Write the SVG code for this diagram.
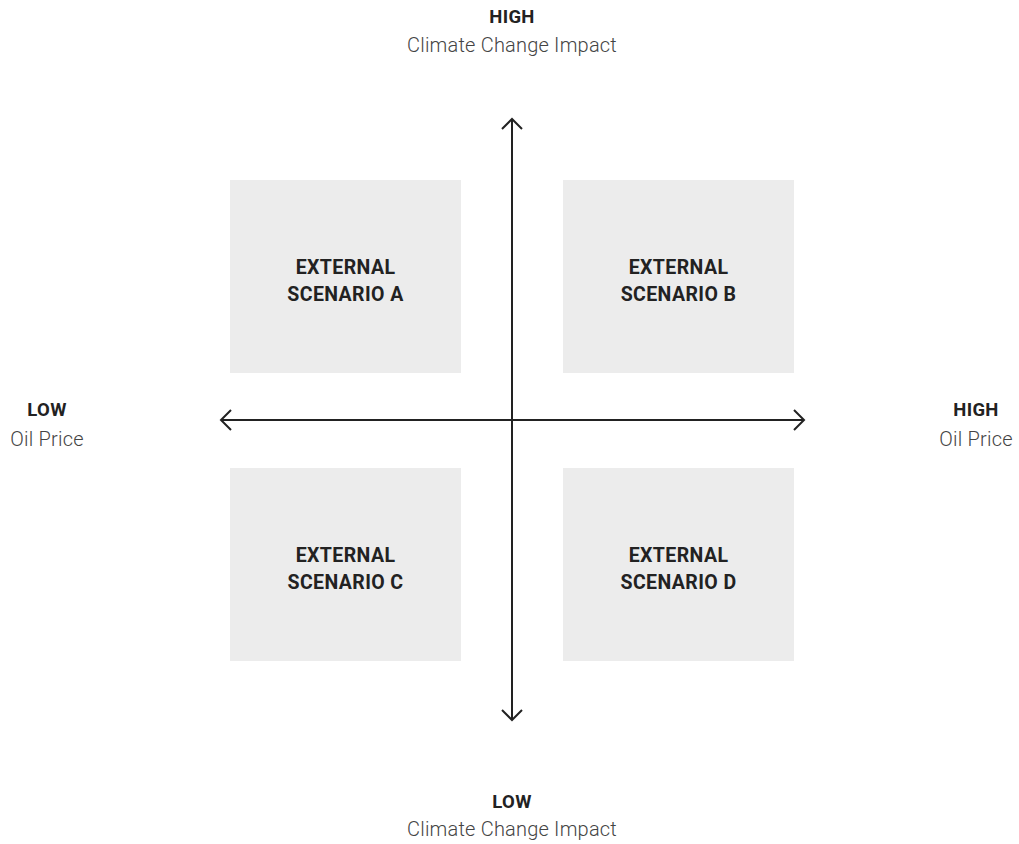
<svg xmlns="http://www.w3.org/2000/svg" width="1019" height="844" viewBox="0 0 1019 844">
<style>
.box{fill:#ececec}
.bt{font-family:Roboto,"Liberation Sans",sans-serif;font-weight:700;font-size:19.5px;letter-spacing:0.4px;fill:#222;text-anchor:middle}
.hd{font-family:Roboto,"Liberation Sans",sans-serif;font-weight:700;font-size:18.5px;letter-spacing:0.3px;fill:#222;text-anchor:middle}
.sub{font-family:Roboto,"Liberation Sans",sans-serif;font-weight:300;font-size:20px;letter-spacing:0.2px;fill:#444;text-anchor:middle}
.ax{stroke:#222;stroke-width:2;fill:none}
</style>
<rect width="1019" height="844" fill="#fff"/>
<g id="scenario-a"><rect class="box" x="230" y="180" width="231" height="193"/><text class="bt" x="345.5" y="274">EXTERNAL</text><text class="bt" x="345.5" y="301">SCENARIO A</text></g>
<g id="scenario-b"><rect class="box" x="563" y="180" width="231" height="193"/><text class="bt" x="678.5" y="274">EXTERNAL</text><text class="bt" x="678.5" y="301">SCENARIO B</text></g>
<g id="scenario-c"><rect class="box" x="230" y="468" width="231" height="193"/><text class="bt" x="345.5" y="562">EXTERNAL</text><text class="bt" x="345.5" y="589">SCENARIO C</text></g>
<g id="scenario-d"><rect class="box" x="563" y="468" width="231" height="193"/><text class="bt" x="678.5" y="562">EXTERNAL</text><text class="bt" x="678.5" y="589">SCENARIO D</text></g>
<g id="connectors">
<line class="ax" x1="512" y1="119" x2="512" y2="720"/>
<line class="ax" x1="221" y1="420" x2="804" y2="420"/>
<polyline class="ax" points="502,129 512,119 522,129"/>
<polyline class="ax" points="502,710 512,720 522,710"/>
<polyline class="ax" points="231,410 221,420 231,430"/>
<polyline class="ax" points="794,410 804,420 794,430"/>
</g>
<g id="label-top"><text class="hd" x="512" y="23">HIGH</text><text class="sub" x="512" y="52">Climate Change Impact</text></g>
<g id="label-bottom"><text class="hd" x="512" y="808">LOW</text><text class="sub" x="512" y="836">Climate Change Impact</text></g>
<g id="label-left"><text class="hd" x="47" y="416">LOW</text><text class="sub" x="47" y="446">Oil Price</text></g>
<g id="label-right"><text class="hd" x="976" y="416">HIGH</text><text class="sub" x="976" y="446">Oil Price</text></g>
</svg>
